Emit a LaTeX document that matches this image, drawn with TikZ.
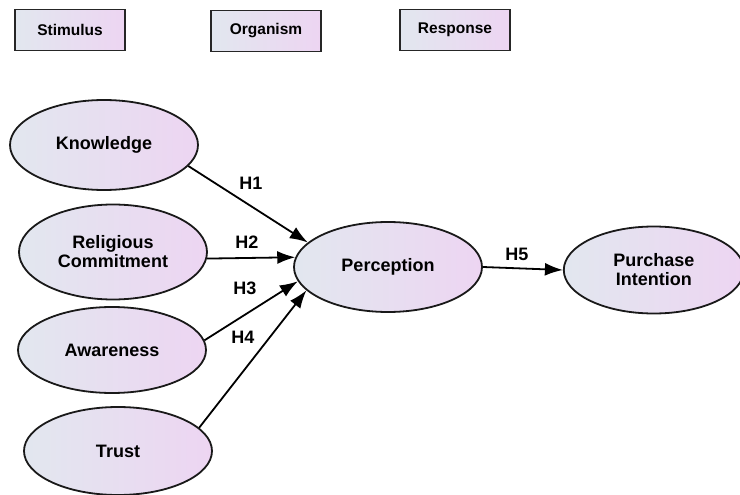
\documentclass[tikz,border=0pt]{standalone}
\usepackage{fontspec}
\setmainfont{Liberation Sans}
\usepackage{tikz}
\usetikzlibrary{shapes.geometric, arrows.meta, positioning}
\definecolor{shadeleft}{RGB}{226,231,239}
\definecolor{shaderight}{RGB}{237,213,242}
\tikzset{
    stagebox/.style={rectangle, draw=black!85, line width=1.9pt, left color=shadeleft, right color=shaderight, minimum width=110pt, minimum height=41pt, inner sep=0pt, font=\fontsize{15.5}{17}\selectfont\bfseries},
    construct/.style={ellipse, draw=black!90, line width=1.8pt, left color=shadeleft, right color=shaderight, minimum width=188pt, minimum height=90pt, inner sep=0pt, align=center, font=\fontsize{18}{19}\selectfont\bfseries},
    arrow/.style={line width=1.8pt, -{Latex[length=18pt,width=13pt]}, color=black},
    hlabel/.style={font=\fontsize{18}{20}\selectfont\bfseries}
}

\begin{document}
\begin{tikzpicture}[x=1pt, y=-1pt]
    \useasboundingbox (0,0) rectangle (740,495);
    % stage headers
    \node (stim) [stagebox] at (70,30) {Stimulus};
    \node (org) [stagebox] at (266,31) {Organism};
    \node (resp) [stagebox] at (455,30) {Response};

    % constructs
    \node (know) [construct] at (104,145) {Knowledge};
    \node (relig) [construct, minimum height=95pt] at (113,252) {Religious\\Commitment};
    \node (aware) [construct, minimum height=86pt] at (112,350) {Awareness};
    \node (trust) [construct, minimum height=88pt] at (118,451) {Trust};
    \node (perc) [construct] at (388,267) {Perception};
    \node (purch) [construct, right=80pt of perc, minimum width=180pt, minimum height=87pt, yshift=-3pt] {Purchase\\Intention};

    \draw [arrow] (know.-14) -- (perc.163);
    \draw [arrow] (relig.-4) -- (perc.174);
    \draw [arrow] (aware.6) -- (perc.189);
    \draw [arrow] (trust.16) -- (perc.196);
    \draw [arrow] (perc.east) -- (purch.west);

    \node (h1) [hlabel] at (251,183) {H1};
    \node (h2) [hlabel] at (247,242) {H2};
    \node (h3) [hlabel] at (245,288) {H3};
    \node (h4) [hlabel] at (243,337) {H4};
    \node (h5) [hlabel] at (517,254) {H5};
\end{tikzpicture}
\end{document}
